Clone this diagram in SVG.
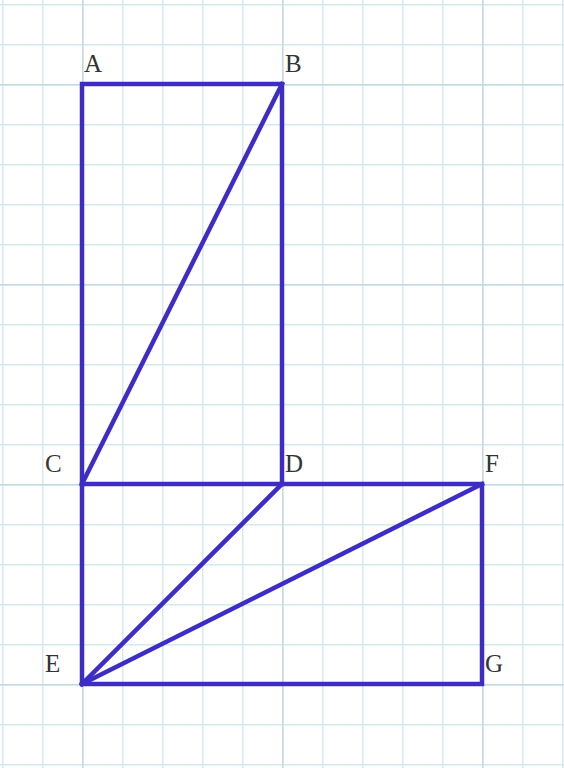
<svg xmlns="http://www.w3.org/2000/svg" width="564" height="768" viewBox="0 0 564 768">
<defs>
<pattern id="grid" x="2" y="4" width="40" height="40" patternUnits="userSpaceOnUse">
<path d="M0,0 V40 M0,0 H40" stroke="#d6e9ef" stroke-width="3" fill="none"/>
</pattern>
<pattern id="major" x="82" y="84" width="200" height="200" patternUnits="userSpaceOnUse">
<path d="M0,0 V200 M0,0 H200" stroke="#c6d9e0" stroke-width="3" fill="none"/>
</pattern>
</defs>
<style>
.seg{stroke:#3d2cc6;stroke-width:4.5;fill:none;stroke-linecap:square;stroke-linejoin:miter}
</style>
<rect width="564" height="768" fill="#fff"/>
<rect width="564" height="768" fill="url(#grid)"/>
<rect width="564" height="768" fill="url(#major)"/>
<g id="connectors">
<polyline class="seg" points="82,484 82,84 282,84 282,484"/>
<line class="seg" x1="82" y1="484" x2="282" y2="84"/>
<polyline class="seg" points="82,484 482,484 482,684 82,684 82,484"/>
<line class="seg" x1="82" y1="684" x2="282" y2="484"/>
<line class="seg" x1="82" y1="684" x2="482" y2="484"/>
</g>
<g font-family="Liberation Serif, serif" font-size="25" fill="#333">
<g id="A"><text x="84" y="72">A</text></g>
<g id="B"><text x="285" y="72">B</text></g>
<g id="C"><text x="45" y="472">C</text></g>
<g id="D"><text x="285" y="472">D</text></g>
<g id="F"><text x="485" y="472">F</text></g>
<g id="E"><text x="45" y="672">E</text></g>
<g id="G"><text x="485" y="672">G</text></g>
</g>
</svg>
